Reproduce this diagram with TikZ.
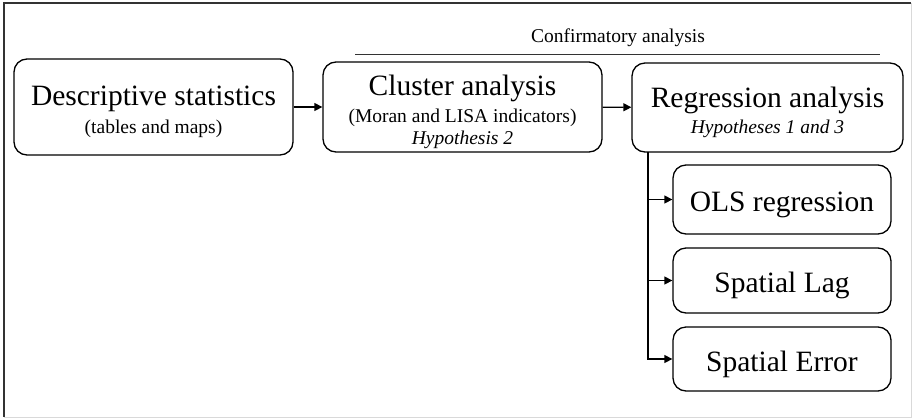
\documentclass[tikz,border=0pt]{standalone}
\usepackage{fontspec}
\setmainfont{Liberation Serif}
\usetikzlibrary{arrows.meta}
\newcommand{\bigtxt}[1]{\raisebox{-5pt}[\height][\depth]{\fontsize{29.5}{24}\selectfont #1}}
\newcommand{\smtxt}[1]{\raisebox{-5pt}[\height][\depth]{\fontsize{19.5}{24}\selectfont #1}}
\tikzset{
  box/.style={draw, line width=1.3pt, rounded corners=13pt, align=center, inner sep=0pt,
    font=\fontsize{19.5}{24}\selectfont},
  arr/.style={line width=1.3pt, -{Triangle[length=8pt,width=8pt]}}
}
\begin{document}
\begin{tikzpicture}[x=1pt,y=-1pt]
      \useasboundingbox (0,0) rectangle (912,418);
      \draw [line width=1.2pt,black!80] (4,417) -- (4,3) -- (911,3);
      \draw [line width=1pt,black!15] (911,3) -- (911,417) -- (4,417);

        \node[box, minimum width=279pt, minimum height=96pt] (desc) at (153.5,107)
          {\bigtxt{Descriptive statistics}\\[4pt]\smtxt{(tables and maps)}};
        \node[box, minimum width=279pt, minimum height=90pt] (clust) at (462.5,107)
          {\bigtxt{Cluster analysis}\\[3pt]\smtxt{(Moran and LISA indicators)}\\[-2pt]\smtxt{\itshape Hypothesis 2}};
        \node[box, minimum width=271pt, minimum height=89pt] (reg) at (767.5,107.5)
          {\bigtxt{Regression analysis}\\[2pt]\smtxt{\itshape Hypotheses 1 and 3}};

        \node[box, minimum width=218pt, minimum height=69pt] (ols) at (782,199.5) {\bigtxt{OLS regression}};
        \node[box, minimum width=218pt, minimum height=65pt] (lag) at (782,280.5) {\bigtxt{Spatial Lag}};
        \node[box, minimum width=218pt, minimum height=64pt] (err) at (782,359) {\bigtxt{Spatial Error}};

        \coordinate (cl) at (355,54);
        \coordinate (cr) at (880,54);
        \draw [line width=1pt,black!80] (cl) -- (cr);
        \node (conf) at (618,38) {\fontsize{19.5}{24}\selectfont Confirmatory analysis};

        \draw [arr] (desc) -- (clust);
        \draw [arr] (clust) -- (reg);

        \coordinate (trunk) at (648,152);
        \draw [arr] (trunk) |- (ols.west);
        \draw [arr] (trunk) |- (lag.west);
        \draw [arr] (trunk) |- (err.west);

    \end{tikzpicture}
\end{document}
